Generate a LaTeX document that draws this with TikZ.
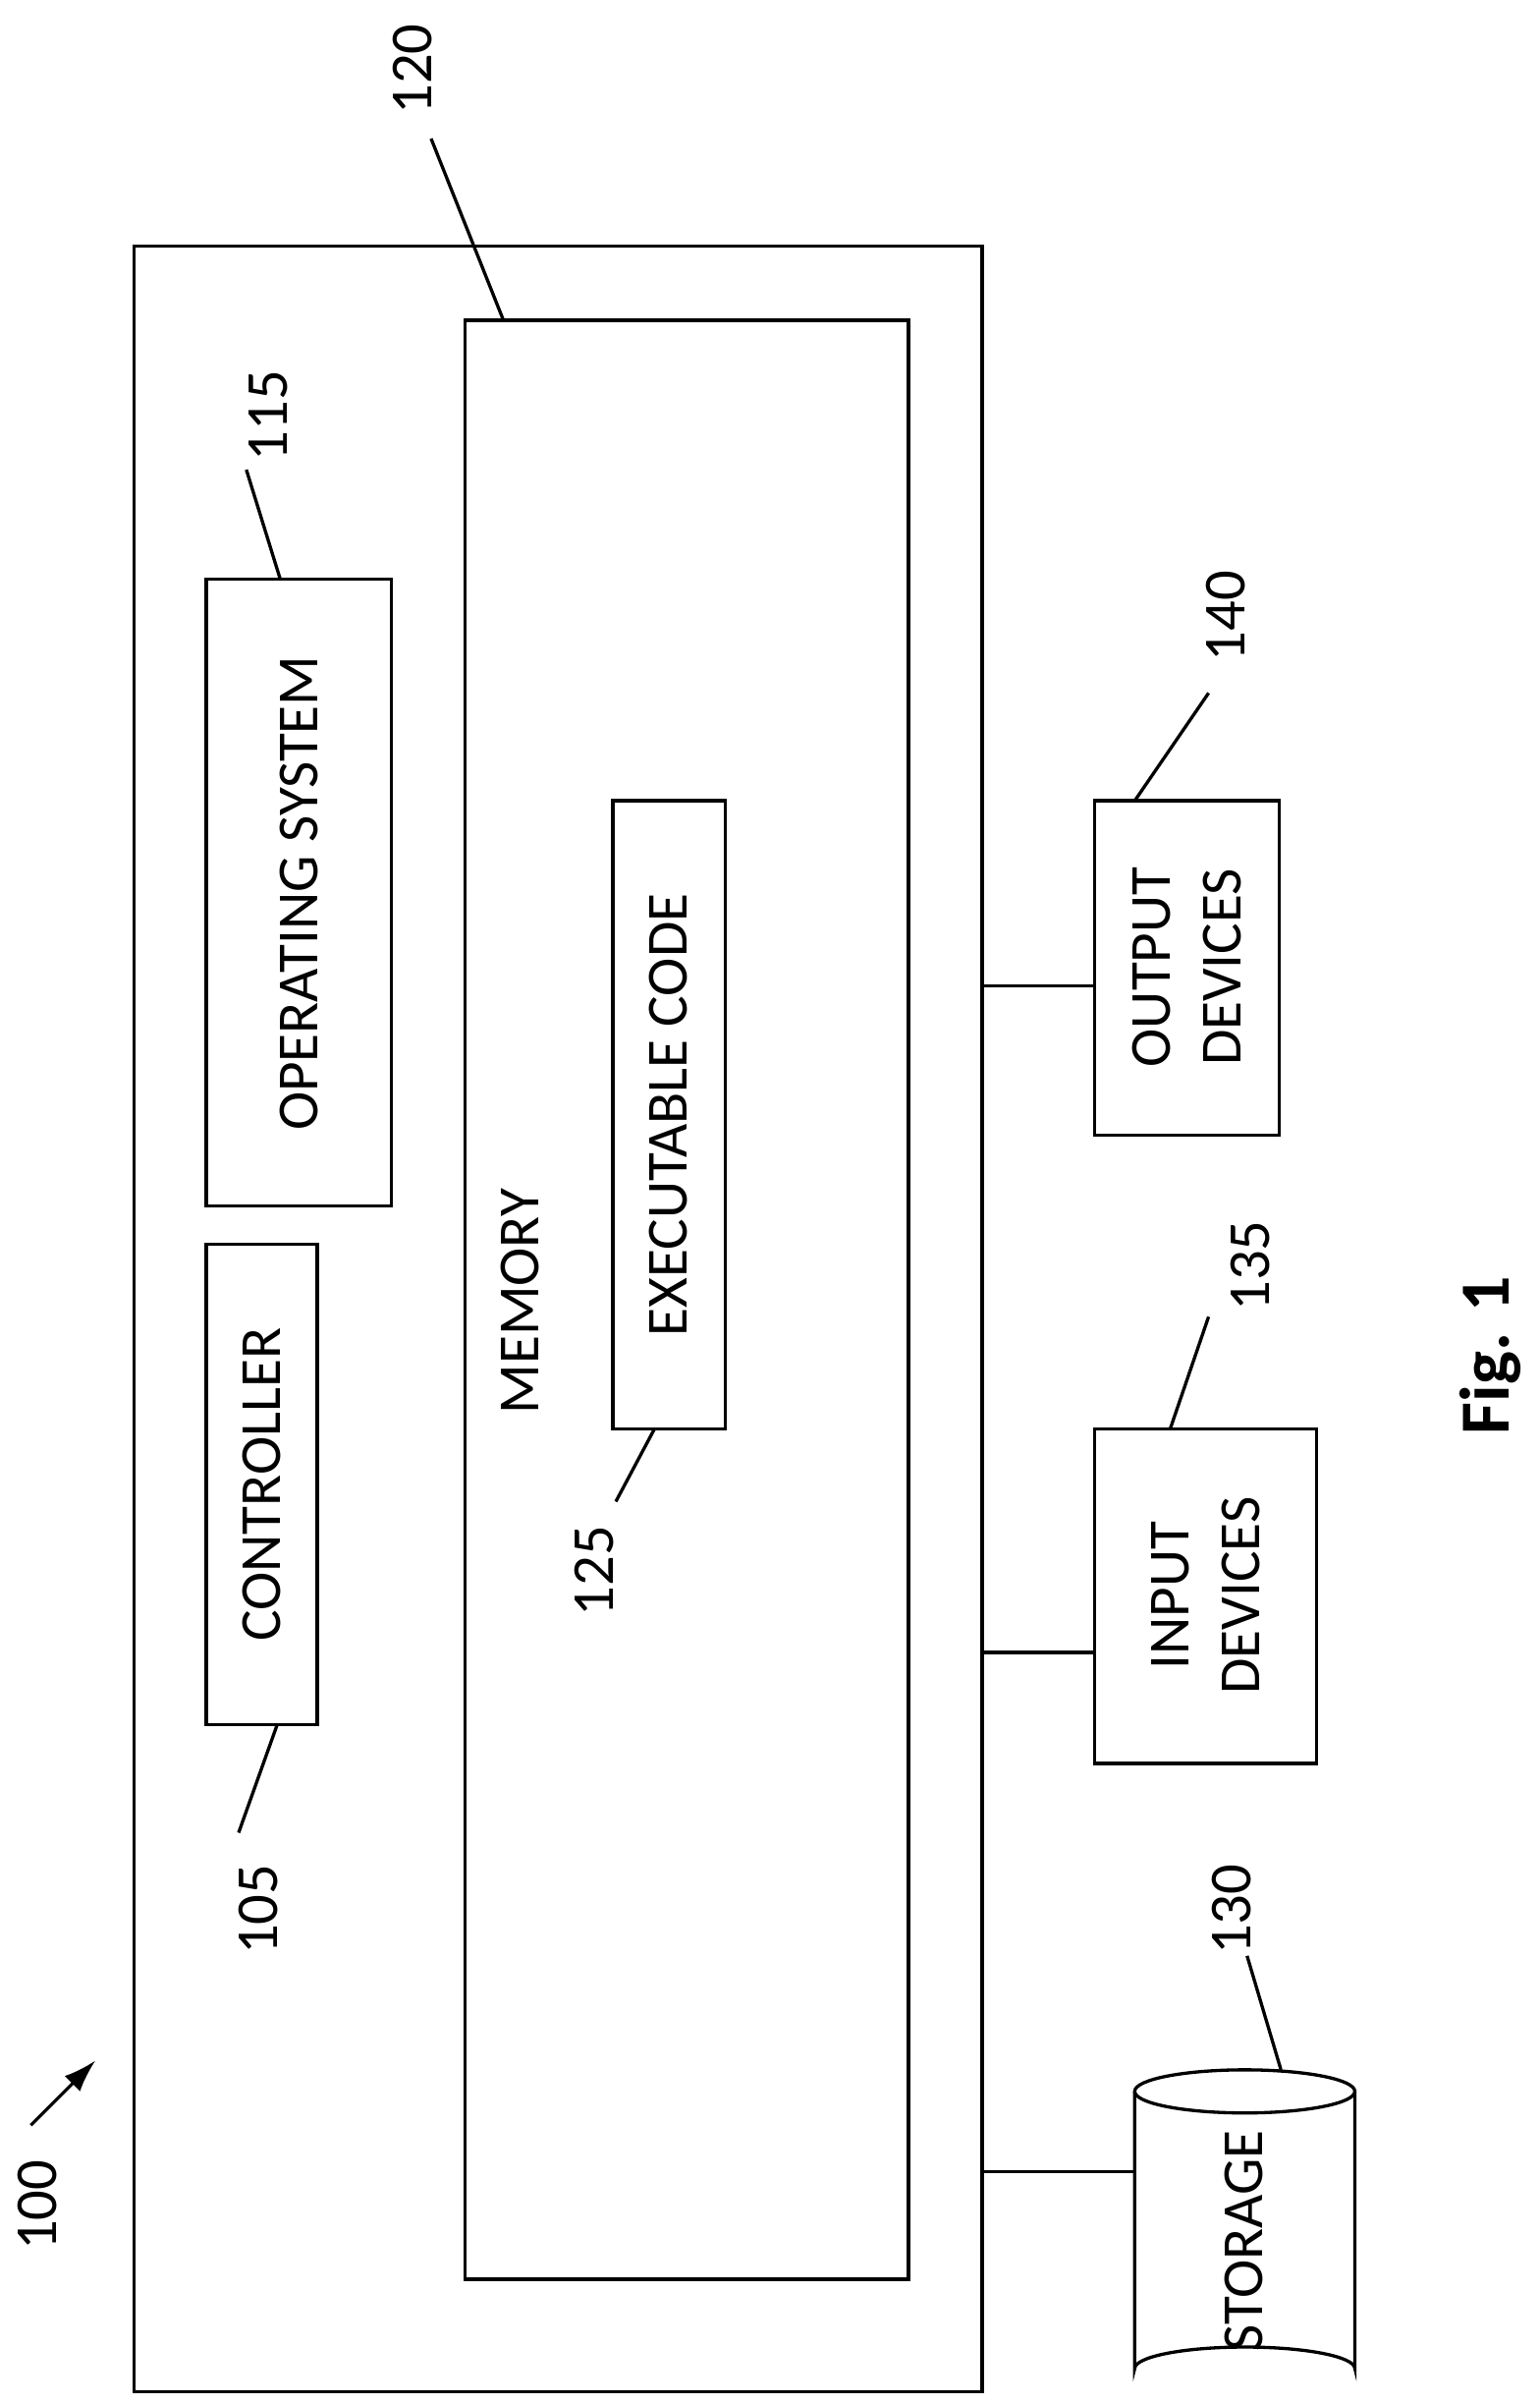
\documentclass[tikz,border=0pt]{standalone}
\usepackage{fontspec}
\usetikzlibrary{arrows.meta}
\setmainfont{Carlito}
\begin{document}
\begin{tikzpicture}[x=0.02cm,y=-0.02cm,line width=1.2pt,
 t/.style={rotate=90,font=\fontsize{21.5}{26}\selectfont,align=center},
 lbl/.style={rotate=90,font=\fontsize{22}{26}\selectfont}]
\useasboundingbox (0,0) rectangle (1000,1561);
\draw (87,160) rectangle (638,1553);
\draw (302,208) rectangle (590,1480);
\coordinate (memc) at (327,208);
\draw (134,376) rectangle (254,783); \coordinate (os) at (182,376);
\node[t] at (194,580) {OPERATING SYSTEM};
\draw (134,808) rectangle (206,1120); \coordinate (ctl) at (180,1120);
\node[t] at (170,964) {CONTROLLER};
\draw (398,520) rectangle (471,928); \coordinate (exe) at (425,928);
\node[t] at (434,724) {EXECUTABLE CODE};
\node[t] at (338,845) {MEMORY};
\draw (711,520) rectangle (831,737); \coordinate (out) at (737,520);
\node[t] (outt) at (771,628) {OUTPUT\\DEVICES};
\draw (711,928) rectangle (855,1145); \coordinate (inp) at (760,928);
\node[t] at (783,1036) {INPUT\\DEVICES};
% storage
\draw (737,1358) -- (737,1538) arc (180:360:71.5 and 14) -- (880,1358);
\draw (808.5,1358) ellipse (71.5 and 14);
\coordinate (sto) at (832,1344);
\node[t] at (808,1455) {STORAGE};
% bus lines
\draw (638,640) -- (711,640);
\draw (638,1073) -- (711,1073);
\draw (638,1410) -- (737,1410);
% leaders
\coordinate (a120) at (280,90); \draw (a120) -- (memc); \node[lbl] at (268,45) {120};
\coordinate (a115) at (160,305); \draw (a115) -- (os); \node[lbl] at (174,270) {115};
\coordinate (a140) at (785,450); \draw (a140) -- (out); \node[lbl] at (796,400) {140};
\coordinate (a135) at (785,855); \draw (a135) -- (inp); \node[lbl] at (812,822) {135};
\coordinate (a125) at (400,975); \draw (a125) -- (exe); \node[lbl] at (386,1020) {125};
\coordinate (a105) at (155,1190); \draw (a105) -- (ctl); \node[lbl] at (168,1240) {105};
\coordinate (a130) at (810,1270); \draw (a130) -- (sto); \node[lbl] at (800,1240) {130};
\coordinate (a100s) at (20,1380); \coordinate (a100e) at (62,1338);
\draw[-{Latex[length=12pt,width=8pt]}] (a100s) -- (a100e); \node[lbl] at (24,1432) {100};
\node[rotate=90,font=\fontsize{26}{30}\selectfont\bfseries] at (968,880) {Fig. 1};
\end{tikzpicture}
\end{document}
